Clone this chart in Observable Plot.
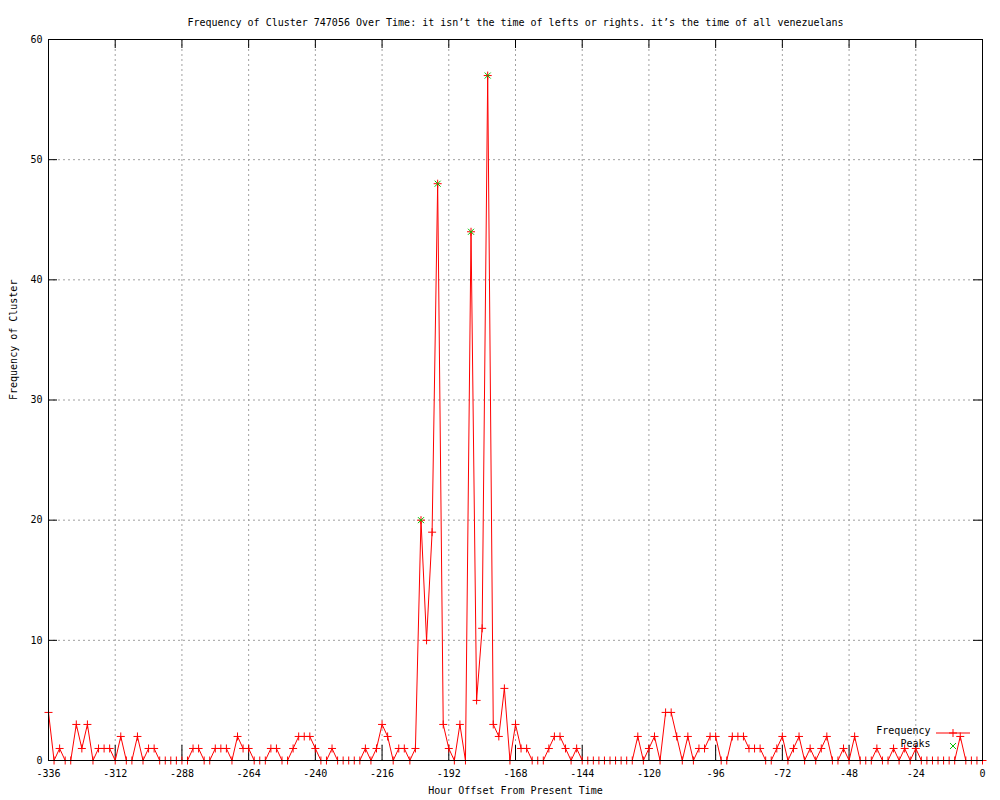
<!DOCTYPE html>
<html>
<head>
<meta charset="utf-8">
<script src="https://cdn.jsdelivr.net/npm/d3@7"></script>
<script src="https://cdn.jsdelivr.net/npm/@observablehq/plot@0.6"></script>
<style>
  html, body { margin: 0; padding: 0; background: #fff; }
  #chart svg { display: block; }
</style>
</head>
<body>
<div id="chart"></div>
<script>
// ---- data (2-hour bins from -336 to 0) ----
const hours = d3.range(-336, 1, 2);
const frequency = [
  4,0,1,0,0,3,1,3,0,1,1,1,       // -336 .. -314
  0,2,0,0,2,0,1,1,0,0,0,0,       // -312 .. -290
  0,0,1,1,0,0,1,1,1,0,2,1,       // -288 .. -266
  1,0,0,0,1,1,0,0,1,2,2,2,       // -264 .. -242
  1,0,0,1,0,0,0,0,0,1,0,1,       // -240 .. -218
  3,2,0,1,1,0,1,20,10,19,48,3,   // -216 .. -194
  1,0,3,0,44,5,11,57,3,2,6,0,    // -192 .. -170
  3,1,1,0,0,0,1,2,2,1,0,1,       // -168 .. -146
  0,0,0,0,0,0,0,0,0,0,2,0,       // -144 .. -122
  1,2,0,4,4,2,0,2,0,1,1,2,       // -120 .. -98
  2,0,0,2,2,2,1,1,1,0,0,1,       // -96 .. -74
  2,0,1,2,0,1,0,1,2,0,0,1,       // -72 .. -50
  0,2,0,0,0,1,0,0,1,0,1,0,       // -48 .. -26
  1,0,0,0,0,0,0,0,2,0,0,0,       // -24 .. -2
  0                              // 0
];
const peakHours = [-202, -196, -184, -178];
const peakValues = [20, 48, 44, 57];
const xTicks = [-336, -312, -288, -264, -240, -216, -192, -168, -144, -120, -96, -72, -48, -24, 0];
const yTicks = [0, 10, 20, 30, 40, 50, 60];
const legendLabels = ["Frequency", "Peaks"];

const titleText = "Frequency of Cluster 747056 Over Time: it isn’t the time of lefts or rights. it’s the time of all venezuelans";
const xLabel = "Hour Offset From Present Time";
const yLabel = "Frequency of Cluster";

const series = hours.map((h, i) => ({h, v: frequency[i]}));
const peaks = peakHours.map((h, i) => ({h, v: peakValues[i]}));

// ---- symbols ----
const plusSym = {draw(ctx) { const r = 4; ctx.moveTo(-r, 0); ctx.lineTo(r, 0); ctx.moveTo(0, -r); ctx.lineTo(0, r); }};
const crossSym = {draw(ctx) { const r = 3; ctx.moveTo(-r, -r); ctx.lineTo(r, r); ctx.moveTo(-r, r); ctx.lineTo(r, -r); }};

const RED = "#ff0000";
const GREEN = "#00c000";
const GRID = "#a0a0a0";
const xMin = xTicks[0], xMax = xTicks[xTicks.length - 1];
const yMin = yTicks[0], yMax = yTicks[yTicks.length - 1];

const chart = Plot.plot({
  width: 1000,
  height: 800,
  marginLeft: 48,
  marginRight: 18,
  marginTop: 39,
  marginBottom: 40,
  style: {fontFamily: "'DejaVu Sans Mono', monospace", fontSize: "10px", background: "#fff", color: "#000"},
  x: {domain: [xMin, xMax]},
  y: {domain: [yMin, yMax]},
  marks: [
    Plot.gridX(xTicks, {stroke: GRID, strokeOpacity: 1, strokeDasharray: "2,3"}),
    Plot.gridY(yTicks, {stroke: GRID, strokeOpacity: 1, strokeDasharray: "2,3"}),
    // inward ticks (bottom / top)
    Plot.ruleX(xTicks, {x: d => d, y1: yMin, y2: yMin, insetTop: -15, stroke: "#000"}),
    Plot.ruleX(xTicks, {x: d => d, y1: yMax, y2: yMax, insetBottom: -9, stroke: "#000"}),
    // inward ticks (left / right)
    Plot.ruleY(yTicks, {y: d => d, x1: xMin, x2: xMin, insetRight: -9, stroke: "#000"}),
    Plot.ruleY(yTicks, {y: d => d, x1: xMax, x2: xMax, insetLeft: -9, stroke: "#000"}),
    Plot.axisX(xTicks, {tickSize: 0, tickPadding: 9, tickFormat: d => `${d}`, label: null}),
    Plot.axisY(yTicks, {tickSize: 0, tickPadding: 6, tickFormat: d => `${d}`, label: null}),
    // data
    Plot.line(series, {x: "h", y: "v", stroke: RED, strokeWidth: 1}),
    Plot.dot(series, {x: "h", y: "v", symbol: plusSym, stroke: RED, strokeWidth: 1}),
    Plot.dot(peaks, {x: "h", y: "v", symbol: crossSym, stroke: GREEN, strokeWidth: 1}),
    Plot.frame({stroke: "#000", strokeWidth: 1}),
    // legend labels
    Plot.text([legendLabels[0]], {frameAnchor: "bottom-right", dx: -52, dy: -27, textAnchor: "end", fill: "#000"}),
    Plot.text([legendLabels[1]], {frameAnchor: "bottom-right", dx: -52, dy: -14, textAnchor: "end", fill: "#000"}),
    // titles
    Plot.text([titleText], {frameAnchor: "top", dy: -21, fill: "#000"}),
    Plot.text([xLabel], {frameAnchor: "bottom", dy: 33, fill: "#000"}),
    Plot.text([yLabel], {frameAnchor: "left", dx: -35, rotate: -90, fill: "#000"})
  ]
});

// legend key samples, positioned relative to the plot frame
{
  const xs = chart.scale("x"), ys = chart.scale("y");
  const right = xs.range[1], bottom = ys.range[0];
  const cx = right - 29;
  const svg = d3.select(chart);
  const g = svg.append("g").attr("fill", "none").attr("stroke-width", 1);
  const y1 = bottom - 27, y2 = bottom - 14;
  g.append("line").attr("x1", cx - 17).attr("x2", cx + 17).attr("y1", y1).attr("y2", y1).attr("stroke", RED);
  g.append("path").attr("d", `M${cx-4},${y1}H${cx+4}M${cx},${y1-4}V${y1+4}`).attr("stroke", RED);
  g.append("path").attr("d", `M${cx-3},${y2-3}L${cx+3},${y2+3}M${cx-3},${y2+3}L${cx+3},${y2-3}`).attr("stroke", GREEN);
}
document.getElementById("chart").append(chart);
</script>
</body>
</html>
